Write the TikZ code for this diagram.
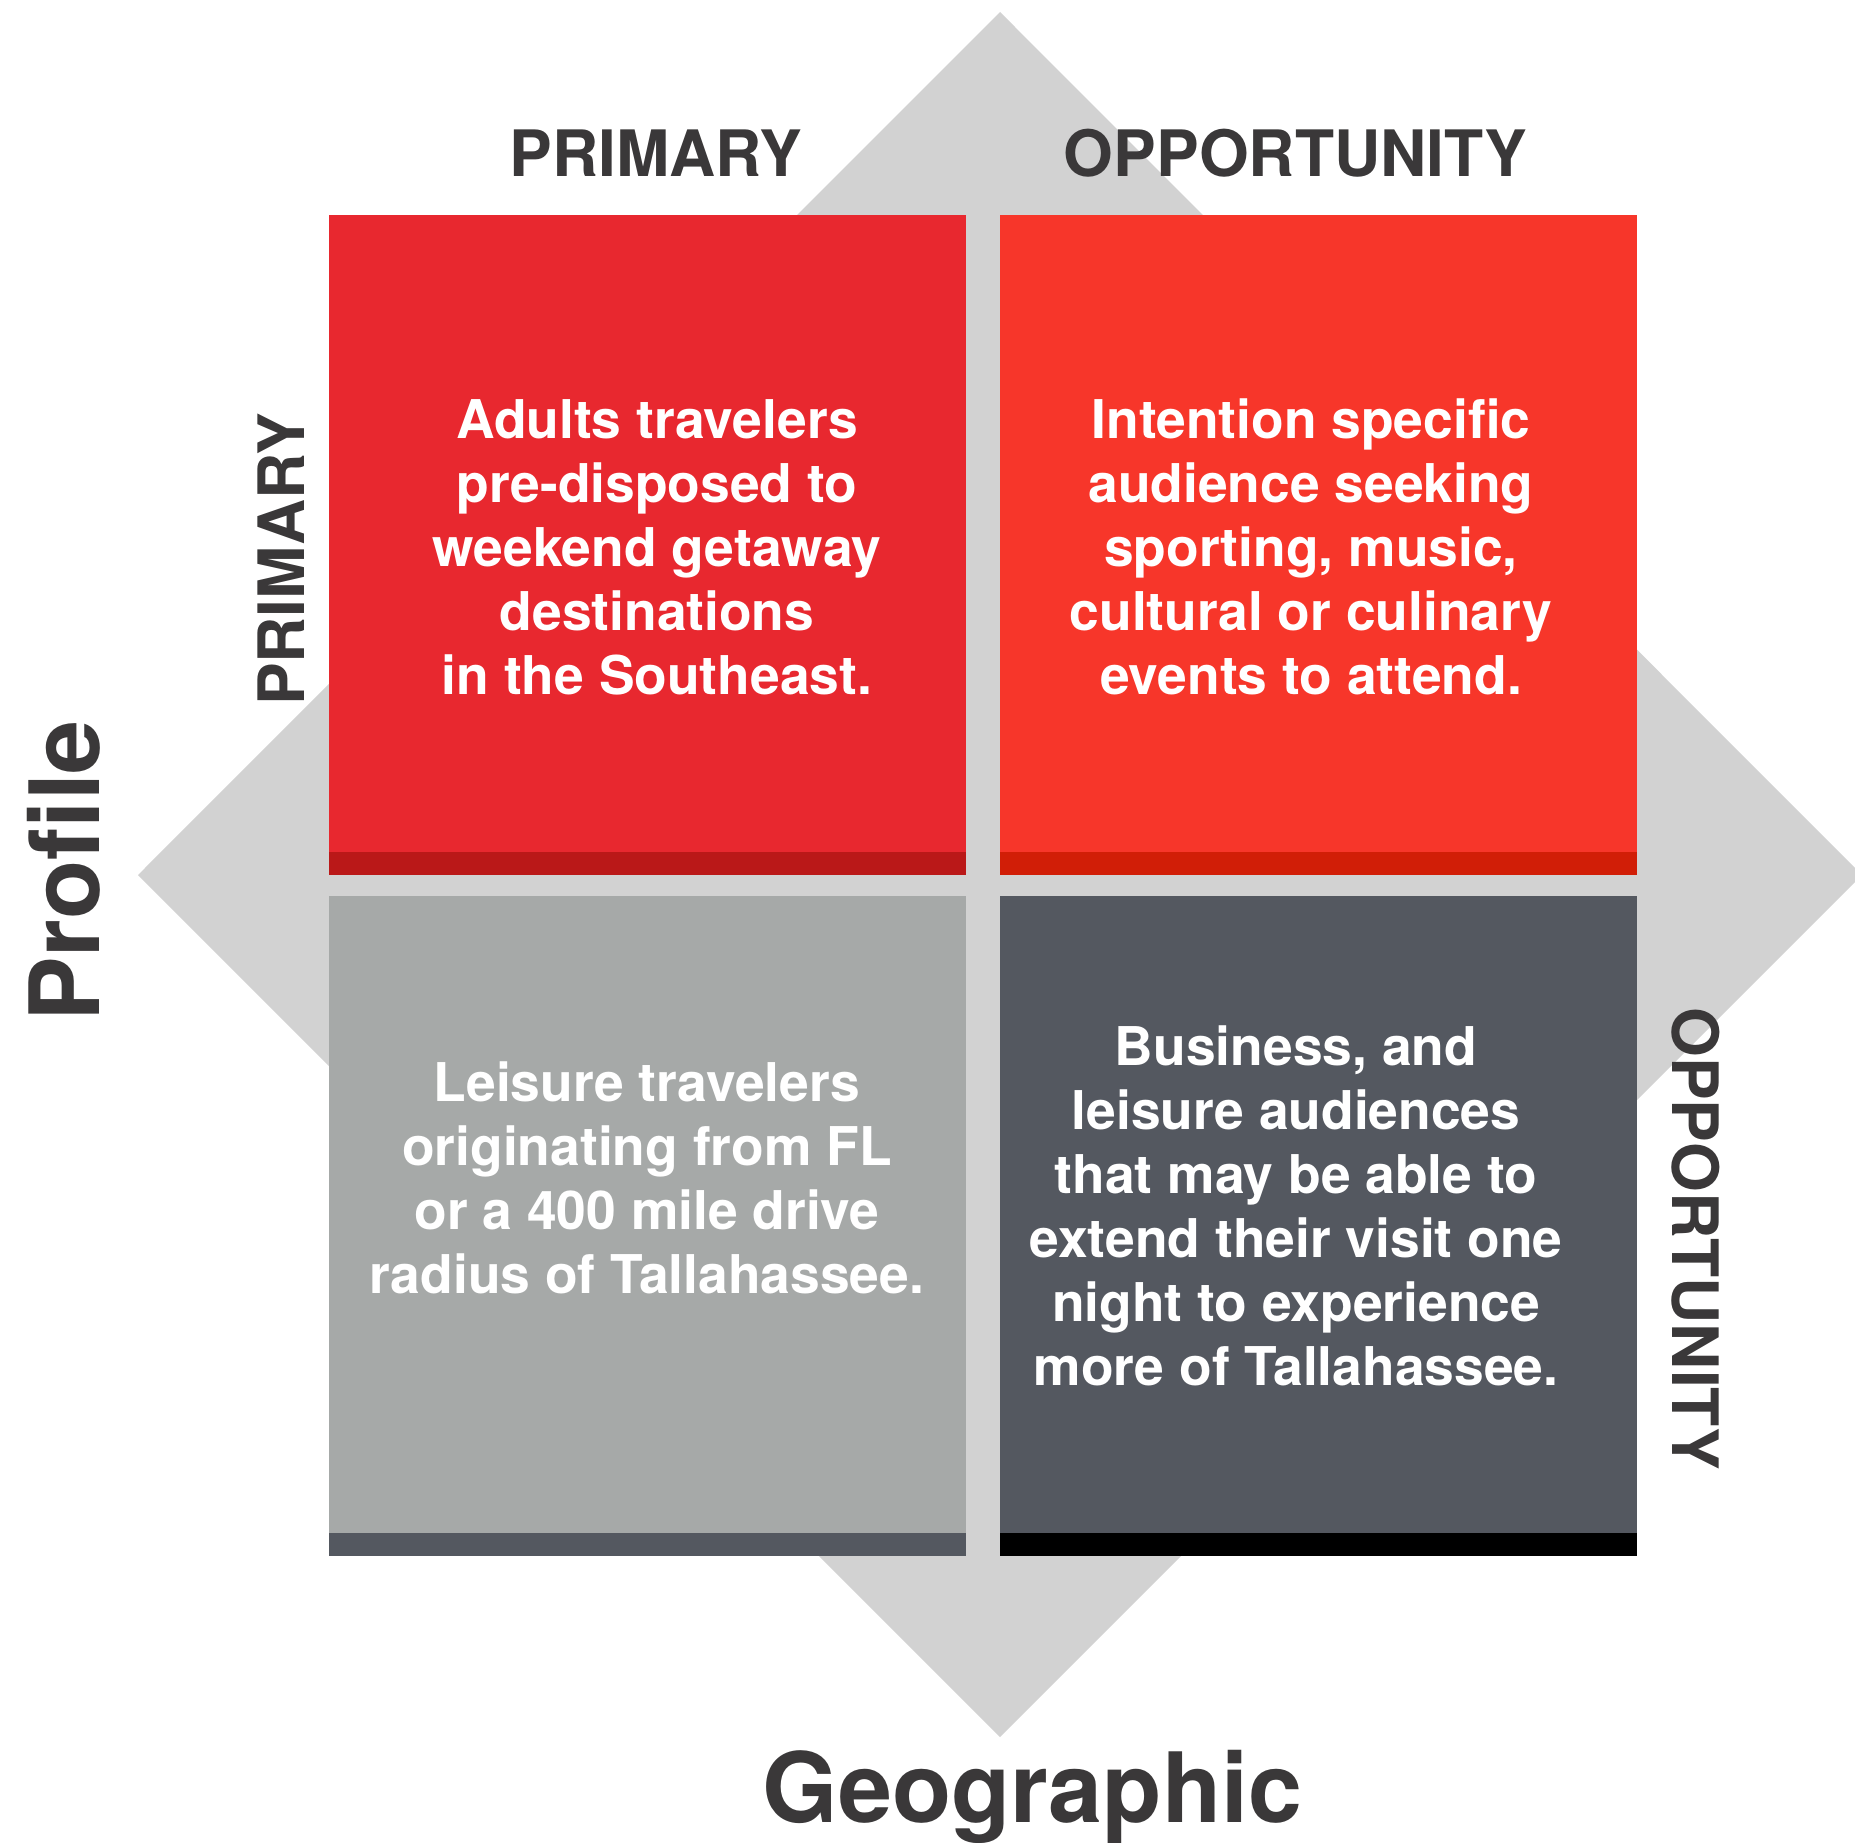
\documentclass[tikz,border=0pt]{standalone}
\usepackage{fontspec}
\setmainfont{TeX Gyre Heros}
\usepackage{tikz}
\usepackage{xcolor}

\definecolor{diamondgray}{HTML}{D2D2D2}
\definecolor{labelgray}{HTML}{3A3839}
\definecolor{primred}{HTML}{E8282F}
\definecolor{primreddark}{HTML}{BA1818}
\definecolor{oppred}{HTML}{F7362A}
\definecolor{oppreddark}{HTML}{D11E07}
\definecolor{lightslate}{HTML}{A6A9A8}
\definecolor{darkslate}{HTML}{545860}

\tikzset{
    quad-box/.style = {rectangle, inner sep=0pt, minimum width=637pt, minimum height=660pt, anchor=north west},
    quad-strip/.style = {rectangle, inner sep=0pt, minimum width=637pt, minimum height=23pt, anchor=south west},
    quad-text/.style = {text=white, align=center, inner sep=0pt, font=\fontsize{53.4}{64}\selectfont\bfseries},
    head-label/.style = {text=labelgray, inner sep=0pt, anchor=base, font=\fontsize{64}{70}\selectfont\bfseries},
    axis-label/.style = {text=labelgray, inner sep=0pt, anchor=base, font=\fontsize{97}{110}\selectfont\bfseries},
}

\begin{document}
\begin{tikzpicture}[x=1pt, y=-1pt]
\useasboundingbox (0,0) rectangle (1855,1843);

% grey diamond behind the grid
\fill[diamondgray] (1000,12) -- (1862,875) -- (1000,1737) -- (138,875) -- cycle;

% the four quadrants, each with a darker strip along the bottom
\node[quad-box, fill=primred] (tl) at (329,215) {};
\node[quad-box, fill=oppred] (tr) at (1000,215) {};
\node[quad-box, fill=lightslate] (bl) at (329,896) {};
\node[quad-box, fill=darkslate] (br) at (1000,896) {};

\node[quad-strip, fill=primreddark] (tl-strip) at (tl.south west) {};
\node[quad-strip, fill=oppreddark] (tr-strip) at (tr.south west) {};
\node[quad-strip, fill=darkslate] (bl-strip) at (bl.south west) {};
\node[quad-strip, fill=black] (br-strip) at (br.south west) {};

\node[quad-text] (tl-text) at (657,547) {Adults travelers\\pre-disposed to\\weekend getaway\\destinations\\in the Southeast.};
\node[quad-text] (tr-text) at (1311,547) {Intention specific\\audience seeking\\sporting, music,\\cultural or culinary\\events to attend.};
\node[quad-text] (bl-text) at (647,1177.5) {Leisure travelers\\originating from FL\\or a 400 mile drive\\radius of Tallahassee.};
\node[quad-text] (br-text) at (1296,1206) {Business, and\\leisure audiences\\that may be able to\\extend their visit one\\night to experience\\more of Tallahassee.};

% column and row headings
\node[head-label] (col-primary) at (656,177) {PRIMARY};
\node[head-label] (col-opportunity) at (1295.5,177) {OPPORTUNITY};
\node[head-label, rotate=90] (row-primary) at (304,559.5) {PRIMARY};
\node[head-label, rotate=-90] (row-opportunity) at (1672,1239) {OPPORTUNITY};

% axis titles
\node[axis-label, rotate=90] (axis-profile) at (99,871) {Profile};
\node[axis-label] (axis-geo) at (1032.5,1822) {Geographic};
\end{tikzpicture}
\end{document}
